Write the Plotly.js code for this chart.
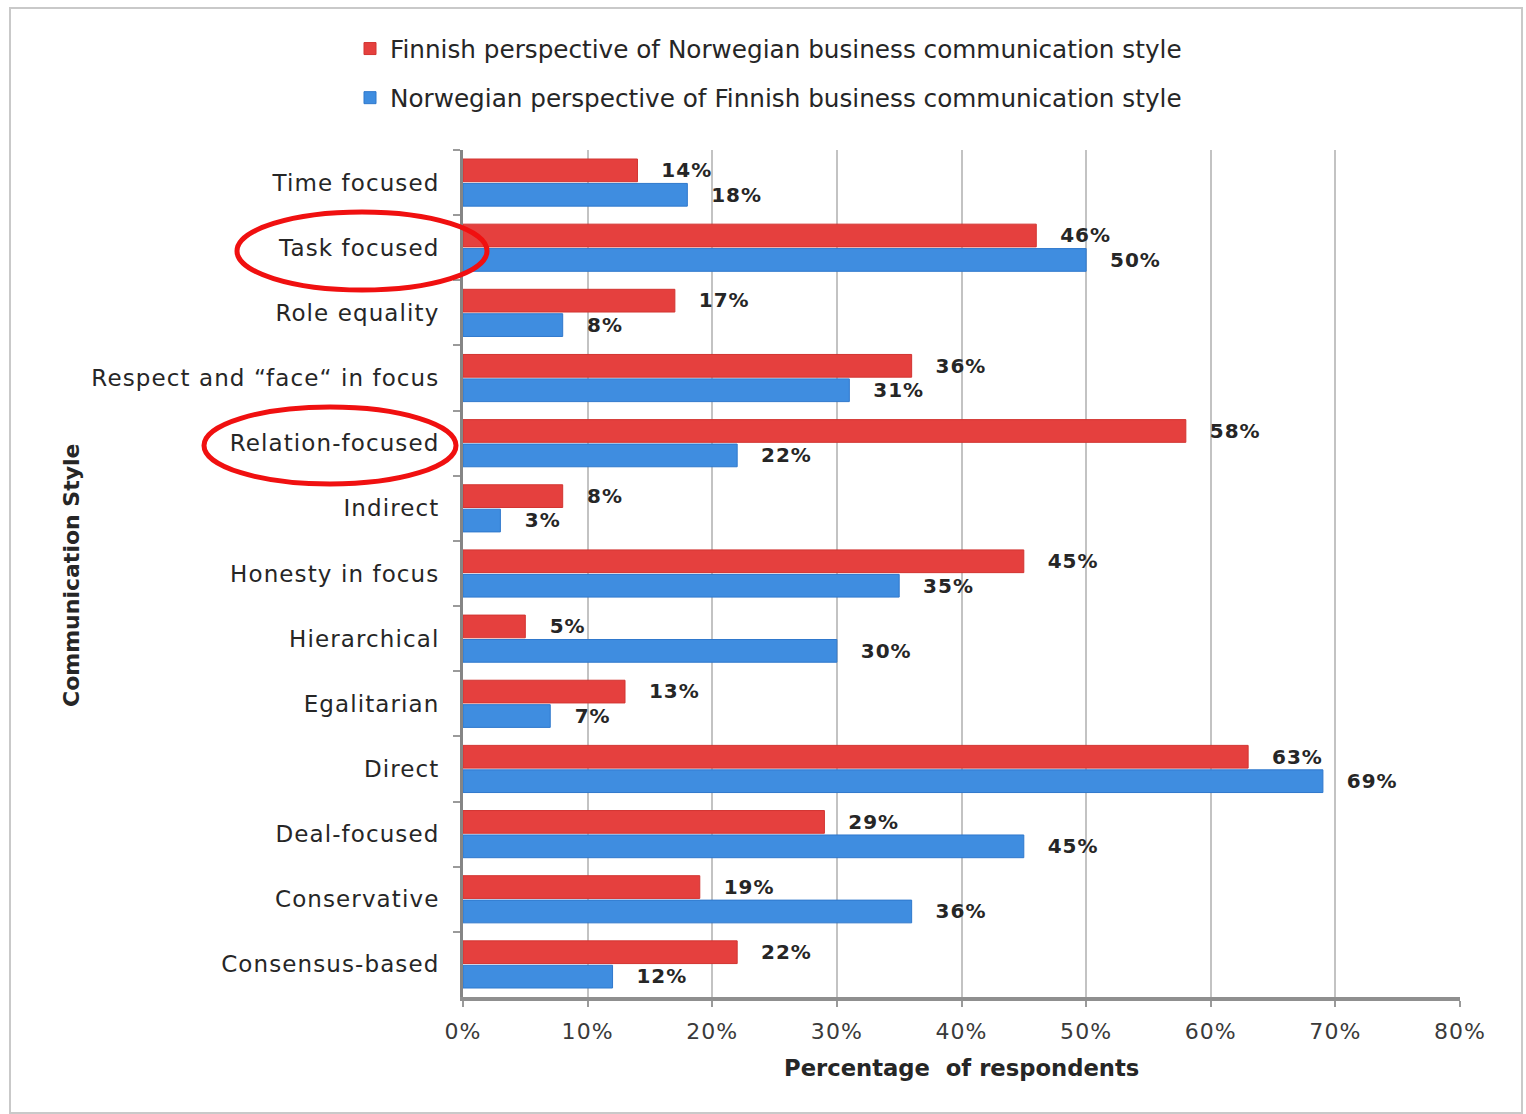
<!DOCTYPE html>
<html>
<head>
<meta charset="utf-8">
<script src="https://cdn.plot.ly/plotly-3.0.1.min.js"></script>
<style>
  html, body { margin: 0; padding: 0; background: #ffffff; }
  #chart { width: 1526px; height: 1114px; }
  #chart .main-svg text:not(.legendtext):not(.annotation-text) { letter-spacing: 1.1px; }
</style>
</head>
<body>
<div id="chart"></div>
<script>
// ---- Data ----
const categories = [
  "Time focused",
  "Task focused",
  "Role equality",
  "Respect and \u201Cface\u201C in focus",
  "Relation-focused",
  "Indirect",
  "Honesty in focus",
  "Hierarchical",
  "Egalitarian",
  "Direct",
  "Deal-focused",
  "Conservative",
  "Consensus-based"
];
const finnishViewValues   = [14, 46, 17, 36, 58, 8, 45, 5, 13, 63, 29, 19, 22];
const norwegianViewValues = [18, 50, 8, 31, 22, 3, 35, 30, 7, 69, 45, 36, 12];
const seriesNames = [
  "Finnish perspective of Norwegian business communication style",
  "Norwegian perspective of Finnish business communication style"
];
const xTickValues = [0, 10, 20, 30, 40, 50, 60, 70, 80];
const xTickLabels = ["0%", "10%", "20%", "30%", "40%", "50%", "60%", "70%", "80%"];
const highlighted = ["Task focused", "Relation-focused"];

// ---- Geometry helpers (pixel -> paper) ----
const W = 1526, H = 1114;
const M = { l: 463, r: 66, t: 150, b: 117 };
const PW = W - M.l - M.r, PH = H - M.t - M.b;
const px = v => (v - M.l) / PW;
const py = v => (H - M.b - v) / PH;

const FONT = "DejaVu Sans, Verdana, sans-serif";
const TXT = "#262626";
const NB = "\u00a0\u00a0\u00a0";

const traces = [
  {
    type: "bar", orientation: "h",
    name: seriesNames[0],
    y: categories, x: finnishViewValues,
    marker: { color: "#e5403e", line: { color: "#d23431", width: 1 } },
    text: finnishViewValues.map(v => NB + v + "%"),
    textposition: "outside",
    textfont: { family: FONT, size: 22, color: TXT, weight: "bold" },
    cliponaxis: false,
    legendgroup: "a",
    hoverinfo: "x+y"
  },
  {
    type: "bar", orientation: "h",
    name: seriesNames[1],
    y: categories, x: norwegianViewValues,
    marker: { color: "#3f8de0", line: { color: "#2f78cc", width: 1 } },
    text: norwegianViewValues.map(v => NB + v + "%"),
    textposition: "outside",
    textfont: { family: FONT, size: 22, color: TXT, weight: "bold" },
    cliponaxis: false,
    legendgroup: "b",
    hoverinfo: "x+y"
  }
];

// ellipses around highlighted labels (pixel boxes)
const ellipseBoxes = {
  "Task focused": [237, 212, 487, 290],
  "Relation-focused": [204, 407, 456, 484]
};

const shapes = [
  { type: "rect", xref: "paper", yref: "paper",
    x0: px(10), x1: px(1522), y0: py(1113), y1: py(8),
    line: { color: "#c9c9c9", width: 2 }, layer: "below" }
].concat(highlighted.map(k => {
  const b = ellipseBoxes[k];
  return { type: "circle", xref: "paper", yref: "paper",
    x0: px(b[0]), x1: px(b[2]), y0: py(b[3]), y1: py(b[1]),
    line: { color: "#f01010", width: 5 }, layer: "above" };
}));

const layout = {
  width: W, height: H,
  margin: M,
  paper_bgcolor: "#ffffff",
  plot_bgcolor: "#ffffff",
  font: { family: FONT, color: TXT, size: 22 },
  barmode: "group",
  bargap: 0.25,
  bargroupgap: 0.07,
  showlegend: true,
  legend: {
    x: px(350), y: py(26), xanchor: "left", yanchor: "top",
    orientation: "v",
    traceorder: "grouped",
    tracegroupgap: 14,
    itemwidth: 30,
    font: { family: FONT, size: 24.7, color: TXT },
    bgcolor: "rgba(0,0,0,0)"
  },
  xaxis: {
    range: [0, 80],
    tickvals: xTickValues,
    ticktext: xTickLabels,
    showgrid: true, gridcolor: "#c3c3c3", gridwidth: 2,
    zeroline: false,
    showline: true, linecolor: "#8f8f8f", linewidth: 4,
    ticks: "outside", ticklen: 6, tickcolor: "#9a9a9a", tickwidth: 2,
    tickfont: { family: FONT, size: 22, color: "#3a3a3a" },
    ticklabelstandoff: 6,
    fixedrange: true
  },
  yaxis: {
    type: "category",
    autorange: "reversed",
    showgrid: false,
    showline: true, linecolor: "#858585", linewidth: 3,
    ticks: "outside", ticklen: 7, tickcolor: "#9a9a9a", tickwidth: 2,
    tickson: "boundaries",
    ticklabelstandoff: 16,
    tickfont: { family: FONT, size: 23, color: TXT },
    fixedrange: true
  },
  shapes: shapes,
  annotations: [
    { text: "Percentage  of respondents", xref: "paper", yref: "paper",
      x: px(961), y: py(1068), xanchor: "center", yanchor: "middle",
      showarrow: false, font: { family: FONT, size: 22.7, color: TXT, weight: "bold" } },
    { text: "Communication Style", xref: "paper", yref: "paper",
      x: px(71), y: py(575), xanchor: "center", yanchor: "middle",
      textangle: -90,
      showarrow: false, font: { family: FONT, size: 22, color: TXT, weight: "bold" } }
  ]
};

Plotly.newPlot("chart", traces, layout, { displayModeBar: false, staticPlot: true });
</script>
</body>
</html>
